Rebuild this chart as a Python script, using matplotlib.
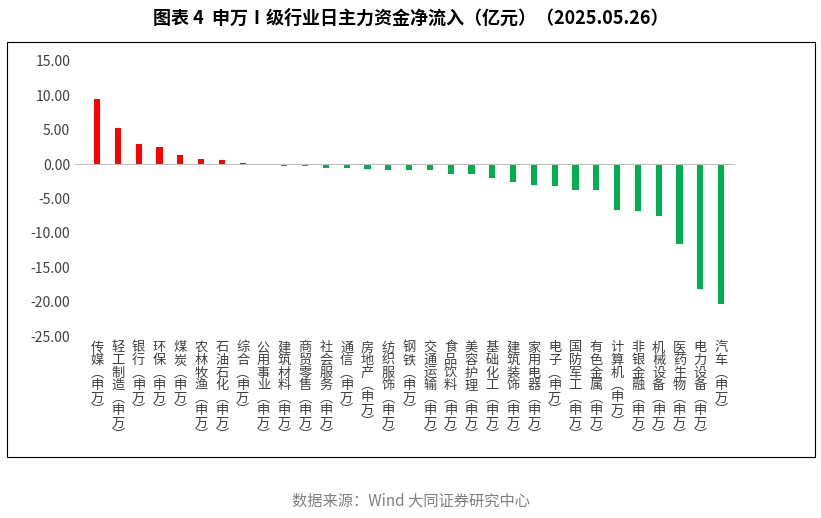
import matplotlib
matplotlib.use("Agg")
import matplotlib.pyplot as plt
from matplotlib.patches import Rectangle

plt.rcParams['font.family'] = ['Noto Sans CJK SC', 'DejaVu Sans']

categories = ["传媒","轻工制造","银行","环保","煤炭","农林牧渔","石油石化","综合","公用事业","建筑材料",
              "商贸零售","社会服务","通信","房地产","纺织服饰","钢铁","交通运输","食品饮料","美容护理","基础化工",
              "建筑装饰","家用电器","电子","国防军工","有色金属","计算机","非银金融","机械设备","医药生物","电力设备","汽车"]
values = [9.5,5.2,3.0,2.5,1.3,0.7,0.6,0.1,-0.1,-0.3,
          -0.3,-0.5,-0.6,-0.7,-0.8,-0.8,-0.9,-1.4,-1.4,-2.0,
          -2.6,-3.1,-3.2,-3.7,-3.8,-6.7,-6.8,-7.6,-11.6,-18.1,-20.3]
yticks = [15,10,5,0,-5,-10,-15,-20,-25]

fig = plt.figure(figsize=(8.21,5.18), dpi=100)
fig.patches.append(Rectangle((7/821, 1-457/518), 808/821, 415/518, transform=fig.transFigure,
                             fill=False, edgecolor='black', linewidth=0.8))
fig.text(0.5, 1-18/518, "图表 4  申万Ⅰ级行业日主力资金净流入（亿元）（2025.05.26）",
         ha='center', va='center', fontsize=13, fontweight='bold')
fig.text(0.5, 1-501/518, "数据来源：Wind 大同证券研究中心", ha='center', va='center',
         fontsize=11, color='#808080')

ax = fig.add_axes([75/821, 1-336/518, 660/821, 275/518])
x = list(range(len(categories)))
colors = ['#FF0000' if v > 0 else '#00B050' for v in values]
ax.bar(x, values, width=0.3, color=colors)
ax.axhline(0, color='#BFBFBF', linewidth=0.8)
ax.set_ylim(-25, 15)
ax.set_xlim(-1.06, 30.67)
ax.set_yticks(yticks)
ax.set_yticklabels([f"{t:.2f}" for t in yticks], fontsize=10, color='#404040')
ax.tick_params(axis='y', length=0)
ax.set_xticks([])
for s in ax.spines.values():
    s.set_visible(False)
for i, c in enumerate(categories):
    lab = "\n".join(list(c) + ["︵", "申", "万", "︶"])
    ax.text(i, -25.8, lab, ha='center', va='top', fontsize=9.5, color='#404040', linespacing=0.95)

fig.savefig("out.png", dpi=100)
